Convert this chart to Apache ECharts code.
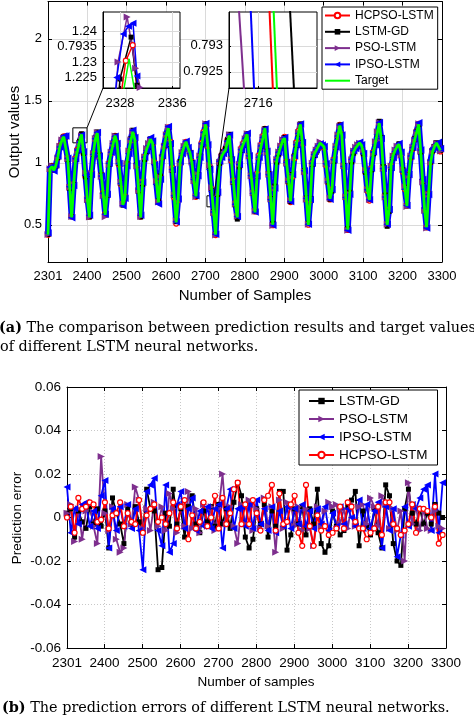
<!DOCTYPE html>
<html><head><meta charset="utf-8">
<script src="https://cdn.jsdelivr.net/npm/echarts@6/dist/echarts.min.js"></script>
<style>html,body{margin:0;padding:0;background:#fff;overflow:hidden}#c{width:474px;height:718px}</style>
</head><body><div id="c"></div>
<script>
// ---------------- data ----------------
const sampleStart = 2301;
const targetStep = 5;   // target read every 5 samples
const errorStep = 10;   // errors read every 10 samples
const xTicks = [2301, 2400, 2500, 2600, 2700, 2800, 2900, 3000, 3100, 3200, 3300];
const yTicksTop = [0.5, 1, 1.5, 2];
const yTicksBottom = [-0.06, -0.04, -0.02, 0, 0.02, 0.04, 0.06];

const target = [
0.42,0.95,0.97,0.94,0.98,1.05,1.13,1.18,1.21,1.21,
1.03,0.80,0.56,0.82,1.03,1.10,1.17,1.23,1.08,0.89,
0.70,0.56,0.92,1.08,1.19,1.24,1.06,0.90,0.75,0.58,
0.75,1.00,1.08,1.15,1.22,1.16,0.99,0.83,0.66,0.72,
1.00,1.10,1.18,1.25,1.19,0.98,0.77,0.56,0.85,1.05,
1.11,1.15,1.19,1.16,1.00,0.84,0.68,0.88,1.05,1.14,
1.22,1.28,1.16,0.95,0.73,0.52,0.70,1.00,1.08,1.13,
1.17,1.12,1.08,1.00,0.86,0.73,0.90,1.05,1.15,1.24,
1.31,1.14,0.96,0.78,0.60,0.42,0.75,1.00,1.05,1.08,
1.10,1.17,1.22,1.02,0.85,0.67,0.56,0.98,1.11,1.15,
1.19,1.23,1.06,0.90,0.75,0.60,0.90,1.05,1.13,1.20,
1.28,1.10,0.90,0.70,0.50,0.80,1.02,1.08,1.13,1.18,
1.20,1.00,0.85,0.69,0.90,1.05,1.15,1.24,1.31,1.16,
0.94,0.72,0.50,0.70,1.00,1.07,1.10,1.13,1.16,1.15,
1.13,0.99,0.85,0.71,0.78,1.02,1.13,1.22,1.30,1.22,
0.97,0.72,0.46,0.75,1.02,1.09,1.12,1.14,1.16,1.14,
1.08,0.93,0.78,0.70,0.95,1.08,1.16,1.24,1.32,1.19,
0.96,0.73,0.50,0.62,0.98,1.06,1.10,1.13,1.15,1.08,
0.93,0.79,0.65,0.90,1.05,1.12,1.19,1.25,1.31,1.09,
0.85,0.62,0.48,0.75,1.00,1.09,1.13,1.16,1.15,1.10];

const errLSTMGD = [
0.002,0.004,-0.009,0.003,-0.002,-0.005,0.005,-0.003,0.004,-0.004,
0.003,-0.014,0.009,0.002,-0.003,-0.012,0.004,-0.003,0.005,-0.002,
-0.007,0.013,0.004,0.003,-0.024,-0.023,0.002,-0.004,0.013,-0.003,
0.004,-0.009,0.005,0.010,-0.003,-0.007,0.003,-0.002,0.005,-0.004,
0.006,-0.003,0.004,-0.005,0.007,0.016,0.010,-0.009,-0.014,-0.010,
0.004,-0.003,0.006,-0.009,0.003,-0.004,0.012,0.012,-0.015,-0.008,
0.004,-0.003,0.005,-0.008,0.004,-0.003,0.013,-0.012,-0.016,-0.013,
0.003,-0.004,-0.008,-0.006,0.005,0.008,0.012,-0.013,0.003,-0.004,
-0.008,0.004,-0.007,-0.014,0.015,0.010,-0.012,-0.020,-0.022,0.004,
0.013,0.002,-0.003,0.004,-0.003,0.002,-0.003,0.006,0.002,0.000];

const errPSO = [
0.002,0.006,-0.011,0.004,-0.010,0.003,0.006,-0.004,-0.012,0.028,
0.002,-0.006,0.005,-0.010,-0.016,-0.014,0.006,-0.003,0.014,0.008,
-0.005,0.004,-0.006,0.007,-0.004,0.005,-0.006,0.011,0.004,-0.007,
0.006,-0.004,0.012,-0.005,0.004,-0.007,0.006,-0.004,0.005,-0.006,
0.004,0.020,-0.003,0.005,-0.004,-0.012,0.006,-0.003,0.008,-0.006,
0.004,-0.005,0.009,-0.004,0.005,-0.016,0.008,-0.005,0.007,0.006,
-0.004,0.005,-0.006,0.004,-0.005,-0.013,0.005,-0.004,0.003,0.007,
0.005,0.006,-0.003,0.004,-0.005,0.006,-0.004,0.005,0.006,-0.003,
0.009,0.005,-0.004,0.010,0.006,-0.005,0.004,-0.006,0.003,-0.020,
0.016,-0.003,0.005,-0.006,0.004,-0.005,-0.006,0.003,-0.004,-0.005];

const errIPSO = [
0.014,-0.007,0.004,-0.003,0.006,0.007,-0.004,0.003,-0.005,0.010,
0.017,-0.014,0.004,-0.006,0.005,-0.004,0.006,-0.005,0.004,-0.006,
-0.024,0.012,0.015,0.018,-0.006,-0.013,0.015,-0.016,-0.012,0.006,
0.012,-0.005,0.004,0.009,-0.006,0.003,-0.004,0.005,-0.005,0.004,
0.006,-0.014,0.004,0.013,-0.005,0.004,0.005,-0.004,0.006,-0.005,
0.008,-0.003,0.004,-0.006,0.005,-0.007,0.003,-0.004,0.005,-0.005,
0.004,-0.003,0.006,-0.004,0.003,-0.005,0.004,-0.003,0.005,-0.006,
0.002,-0.004,0.005,-0.003,0.004,0.000,-0.004,0.008,-0.005,0.006,
-0.005,0.003,0.007,-0.014,0.005,-0.006,0.004,-0.018,-0.008,0.005,
-0.004,0.006,0.004,0.009,0.013,0.015,-0.006,0.020,-0.007,0.016];

const errHCPSO = [
0.000,0.005,-0.007,0.009,0.004,0.005,0.007,0.006,-0.002,-0.001,
0.007,-0.005,0.001,0.002,0.007,-0.004,0.002,-0.002,-0.003,0.008,
-0.007,0.001,0.004,0.006,-0.002,0.000,-0.003,0.002,0.007,-0.005,
0.005,0.008,-0.010,0.001,-0.005,-0.002,0.007,-0.004,0.000,0.010,
-0.005,0.009,-0.003,0.002,0.013,0.016,-0.003,0.006,-0.003,0.008,
0.002,-0.006,0.008,0.010,0.015,-0.006,0.011,-0.003,-0.002,0.006,
0.010,-0.007,-0.013,0.015,-0.004,-0.013,0.001,-0.006,-0.004,-0.008,
-0.007,-0.005,0.005,-0.005,0.007,0.005,-0.002,-0.005,-0.005,-0.010,
-0.007,-0.005,0.005,-0.008,0.007,0.007,-0.003,-0.005,-0.008,-0.006,
-0.003,0.006,-0.007,0.004,0.004,0.003,0.000,0.005,-0.012,-0.008];

// zoomed insets (values read inside each inset)
const inset1HCPSO  = [[2328.0,1.214],[2328.3,1.2215],[2328.9,1.2304],[2329.95,1.2354],[2330.6,1.2215],[2330.9,1.214]];
const inset1LSTMGD = [[2327.6,1.214],[2328.0,1.2245],[2329.7,1.238],[2330.6,1.2225],[2330.9,1.214]];
const inset1PSO    = [[2327.2,1.214],[2327.7,1.230],[2329.1,1.2445],[2330.4,1.228],[2331.1,1.2218],[2331.4,1.214]];
const inset1IPSO   = [[2327.1,1.214],[2327.5,1.225],[2328.5,1.239],[2329.3,1.2415],[2330.0,1.2425],[2330.6,1.2255],[2331.0,1.214]];
const inset1Target = [[2328.0,1.214],[2329.4,1.231],[2330.8,1.214]];
const inset1YLabels = ['1.225', '1.23', '0.7935', '1.24'];
const inset1YTicks = [1.225, 1.23, 1.235, 1.24];
const inset1XTicks = [2328, 2336];

const inset2HCPSO  = [[2716.19,0.7937],[2716.25,0.7921]];
const inset2LSTMGD = [[2716.54,0.7937],[2716.61,0.7921]];
const inset2PSO    = [[2715.67,0.7937],[2715.76,0.7921]];
const inset2IPSO   = [[2715.87,0.7937],[2715.93,0.7921]];
const inset2Target = [[2716.26,0.7937],[2716.32,0.7921]];
const inset2YTicks = [0.7925, 0.793];
const inset2XTicks = [2716];

// ---------------- chart ----------------
const sans = '"Liberation Sans", Arial, sans-serif';
const serif = '"DejaVu Serif", "Liberation Serif", serif';
const chart = echarts.init(document.getElementById('c'));

const topX = target.map((_, i) => sampleStart + i * targetStep);
const errX = errHCPSO.map((_, j) => sampleStart + j * errorStep);
const topModel = err => target.map((v, i) => [topX[i], v + err[Math.floor(i / 2)]]);
const errSeries = err => err.map((v, j) => [errX[j], v]);

const styles = {
  'HCPSO-LSTM': {color: '#ff0000', symbol: 'circle', fill: '#ffffff'},
  'LSTM-GD': {color: '#000000', symbol: 'rect'},
  'PSO-LSTM': {color: '#7e2f8e', symbol: 'path://M0,0L10,5L0,10Z'},
  'IPSO-LSTM': {color: '#0000ff', symbol: 'path://M10,0L0,5L10,10Z'},
  'Target': {color: '#00ff00', symbol: 'none'}
};
function mk(name, data, ai, size, lw, z, extra) {
  const s = styles[name];
  return Object.assign({
    type: 'line', name, data, xAxisIndex: ai, yAxisIndex: ai,
    symbol: s.symbol, symbolSize: size, showSymbol: s.symbol !== 'none', showAllSymbol: true,
    lineStyle: {color: s.color, width: lw},
    itemStyle: {color: s.fill || s.color, borderColor: s.color, borderWidth: s.fill ? 1.2 : 0},
    emphasis: {disabled: true}, animation: false, silent: true, z: z
  }, extra || {});
}

const axisLine = {show: true, onZero: false, lineStyle: {color: '#000', width: 1}};
const plain = v => String(v);
const lbl = (size, extra) => Object.assign({color: '#000', fontFamily: sans, fontSize: size, formatter: plain}, extra);
function xAx(grid, min, max, ticks, opt) {
  return Object.assign({
    type: 'value', gridIndex: grid, min, max, axisLine,
    axisTick: {show: true, inside: true, length: 4, customValues: ticks, lineStyle: {color: '#000'}},
    axisLabel: {show: false, customValues: ticks},
    splitLine: {show: false}
  }, opt);
}

const legendItem = (name, lw) => ({name, lineStyle: {width: lw}});

const option = {
  animation: false,
  backgroundColor: '#fff',
  grid: [
    {left: 48, top: 1.6, width: 394, height: 260.4, show: true, backgroundColor: '#fff', borderWidth: 0},
    {left: 67, top: 387, width: 379, height: 261, show: true, backgroundColor: '#fff', borderWidth: 0},
    {left: 103, top: 12, width: 77, height: 76, show: true, backgroundColor: '#fff', borderColor: '#000', borderWidth: 1, z: 10},
    {left: 229, top: 12, width: 88, height: 76, show: true, backgroundColor: '#fff', borderColor: '#000', borderWidth: 1, z: 10}
  ],
  xAxis: [
    xAx(0, 2301, 3300, xTicks, {position: 'bottom',
      axisLabel: lbl(13, {customValues: xTicks, margin: 8}),
      splitLine: {show: true, lineStyle: {color: '#dadada', width: 1}}}),
    xAx(0, 2301, 3300, xTicks, {position: 'top'}),
    xAx(1, 2301, 3300, xTicks, {position: 'bottom',
      axisLabel: lbl(13.5, {customValues: xTicks, margin: 8}),
      splitLine: {show: true, lineStyle: {color: '#c8c8c8', width: 1, type: [1, 2]}}}),
    xAx(1, 2301, 3300, xTicks, {position: 'top'}),
    xAx(2, 2325.4, 2337.2, inset1XTicks, {position: 'bottom', z: 10,
      axisLabel: lbl(13, {customValues: inset1XTicks, margin: 9}),
      axisTick: {show: true, inside: true, length: 2, customValues: inset1XTicks},
      splitLine: {show: true, lineStyle: {color: '#dadada'}}}),
    xAx(3, 2715.5, 2717, inset2XTicks, {position: 'bottom', z: 10,
      axisLabel: lbl(13, {customValues: inset2XTicks, margin: 9}),
      axisTick: {show: true, inside: true, length: 2, customValues: inset2XTicks},
      splitLine: {show: true, lineStyle: {color: '#dadada'}}})
  ],
  yAxis: [
    xAx(0, 0.2, 2.3, yTicksTop, {position: 'left',
      axisLabel: lbl(13, {customValues: yTicksTop, margin: 6}),
      splitLine: {show: true, lineStyle: {color: '#dadada', width: 1}}}),
    xAx(0, 0.2, 2.3, yTicksTop, {position: 'right'}),
    xAx(1, -0.06, 0.06, yTicksBottom, {position: 'left',
      axisLabel: lbl(13.5, {customValues: yTicksBottom, margin: 6, formatter: v => Math.abs(v) < 1e-9 ? '0' : v.toFixed(2)}),
      splitLine: {show: true, lineStyle: {color: '#c8c8c8', width: 1, type: [1, 2]}}}),
    xAx(1, -0.06, 0.06, yTicksBottom, {position: 'right'}),
    xAx(2, 1.2216, 1.2461, inset1YTicks, {position: 'left', z: 10,
      axisLabel: lbl(13, {customValues: inset1YTicks, margin: 6, formatter: v => inset1YLabels[inset1YTicks.findIndex(t => Math.abs(t - v) < 1e-6)]}),
      axisTick: {show: true, inside: true, length: 2, customValues: inset1YTicks},
      splitLine: {show: true, lineStyle: {color: '#dadada'}}}),
    xAx(3, 0.79219, 0.79365, inset2YTicks, {position: 'left', z: 10,
      axisLabel: lbl(13, {customValues: inset2YTicks, margin: 6}),
      axisTick: {show: true, inside: true, length: 2, customValues: inset2YTicks},
      splitLine: {show: true, lineStyle: {color: '#dadada'}}})
  ],
  legend: [
    {data: [legendItem('HCPSO-LSTM', 2), legendItem('LSTM-GD', 2), legendItem('PSO-LSTM', 2), legendItem('IPSO-LSTM', 2),
            {name: 'Target', lineStyle: {width: 2}, itemStyle: {color: 'rgba(0,0,0,0)', borderColor: 'rgba(0,0,0,0)', opacity: 0}}],
     orient: 'vertical',
     left: 322, top: 7, padding: [2, 4, 2, 2], itemWidth: 25, itemHeight: 7, itemGap: 3.3,
     textStyle: {fontFamily: sans, fontSize: 12, color: '#000', lineHeight: 13},
     backgroundColor: '#fff', borderColor: '#000', borderWidth: 1, selectedMode: false, z: 20},
    {data: [legendItem('LSTM-GD', 2), legendItem('PSO-LSTM', 2), legendItem('IPSO-LSTM', 2), legendItem('HCPSO-LSTM', 2)],
     orient: 'vertical',
     left: 299, top: 390, padding: [4, 10, 3, 9], itemWidth: 25, itemHeight: 8, itemGap: 4,
     textStyle: {fontFamily: sans, fontSize: 13.5, color: '#000', lineHeight: 14},
     backgroundColor: '#fff', borderColor: '#000', borderWidth: 1, selectedMode: false, z: 20}
  ],
  series: [
    // top: outputs (dense markers form the band around the target)
    mk('HCPSO-LSTM', topModel(errHCPSO), 0, 5, 2, 2),
    mk('LSTM-GD', topModel(errLSTMGD), 0, 5, 2.5, 2),
    mk('PSO-LSTM', topModel(errPSO), 0, 7, 3, 2),
    mk('IPSO-LSTM', topModel(errIPSO), 0, 7.5, 6, 2),
    mk('Target', target.map((v, i) => [topX[i], v]), 0, 0, 2.8, 3, {
      markArea: {silent: true, itemStyle: {color: 'rgba(0,0,0,0)', borderColor: '#000', borderWidth: 1},
        data: [[{coord: [2364, 1.282]}, {coord: [2400, 1.161]}], [{coord: [2704, 0.734]}, {coord: [2722, 0.645]}]]}
    }),
    // bottom: errors
    mk('LSTM-GD', errSeries(errLSTMGD), 2, 5, 1.8, 2),
    mk('PSO-LSTM', errSeries(errPSO), 2, 7, 1.8, 2),
    mk('IPSO-LSTM', errSeries(errIPSO), 2, 7, 1.8, 2),
    mk('HCPSO-LSTM', errSeries(errHCPSO), 2, 5, 1.8, 2),
    // inset 1
    mk('HCPSO-LSTM', inset1HCPSO, 4, 5, 1.5, 11),
    mk('LSTM-GD', inset1LSTMGD, 4, 5, 1.5, 11),
    mk('PSO-LSTM', inset1PSO, 4, 7, 1.5, 11),
    mk('IPSO-LSTM', inset1IPSO, 4, 7, 1.5, 11),
    mk('Target', inset1Target, 4, 0, 1.5, 12),
    // inset 2
    mk('HCPSO-LSTM', inset2HCPSO, 5, 5, 2, 11),
    mk('LSTM-GD', inset2LSTMGD, 5, 5, 2, 11),
    mk('PSO-LSTM', inset2PSO, 5, 7, 2, 11),
    mk('IPSO-LSTM', inset2IPSO, 5, 7, 2, 11),
    mk('Target', inset2Target, 5, 0, 2, 12)
  ]
};
chart.setOption(option);

// connectors & text
const c1a = chart.convertToPixel({xAxisIndex: 4, yAxisIndex: 4}, [2325.4, 1.2216]);
const c1b = chart.convertToPixel({xAxisIndex: 0, yAxisIndex: 0}, [2400, 1.282]);
const c2a = chart.convertToPixel({xAxisIndex: 5, yAxisIndex: 5}, [2715.5, 0.79219]);
const c2b = chart.convertToPixel({xAxisIndex: 0, yAxisIndex: 0}, [2722, 0.734]);
const txt = (x, y, text, size, extra) => ({type: 'text', x, y, z: 30, silent: true,
  style: Object.assign({text, fontFamily: sans, fontSize: size, fill: '#000', align: 'center', verticalAlign: 'middle'}, extra)});
const capSize = 14.4;
chart.setOption({
  graphic: [
    {type: 'line', z: 30, silent: true, shape: {x1: c1a[0], y1: c1a[1], x2: c1b[0], y2: c1b[1]}, style: {stroke: '#000', lineWidth: 1}},
    {type: 'line', z: 30, silent: true, shape: {x1: c2a[0], y1: c2a[1], x2: c2b[0], y2: c2b[1]}, style: {stroke: '#000', lineWidth: 1}},
    Object.assign(txt(15, 132, 'Output values', 15), {rotation: Math.PI / 2}),
    txt(245, 296, 'Number of Samples', 15),
    Object.assign(txt(17, 518, 'Prediction error', 13.5), {rotation: Math.PI / 2}),
    txt(256, 682, 'Number of samples', 13.5),
    txt(-1, 328, '{b|(a)} The comparison between prediction results and target values', capSize,
      {fontFamily: serif, align: 'left', rich: {b: {fontFamily: serif, fontWeight: 'bold', fontSize: capSize}}}),
    txt(0, 347, 'of different LSTM neural networks.', capSize, {fontFamily: serif, align: 'left'}),
    txt(2, 708, '{b|(b)} The prediction errors of different LSTM neural networks.', capSize,
      {fontFamily: serif, align: 'left', rich: {b: {fontFamily: serif, fontWeight: 'bold', fontSize: capSize}}})
  ]
});
</script>
</body></html>
